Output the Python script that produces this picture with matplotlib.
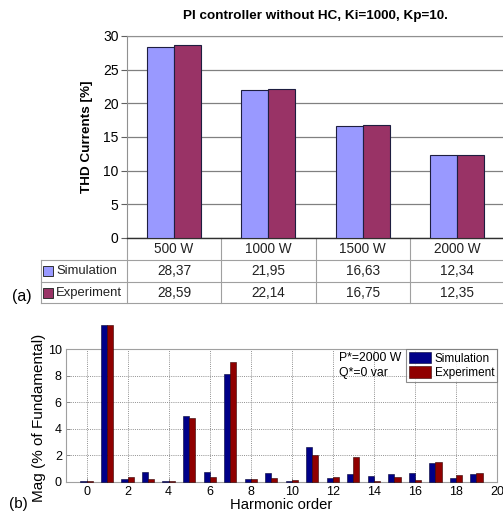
import numpy as np
import matplotlib
matplotlib.use("Agg")
import matplotlib.pyplot as plt
import matplotlib.transforms as mtransforms

plt.rcParams['font.family'] = ['Liberation Sans', 'DejaVu Sans']

# ---------------- data ----------------
powers = ["500 W", "1000 W", "1500 W", "2000 W"]
thd_sim = [28.37, 21.95, 16.63, 12.34]
thd_exp = [28.59, 22.14, 16.75, 12.35]
series_names = ["Simulation", "Experiment"]

harm_order = list(range(0, 20))
mag_sim = [0.1, 11.83, 0.2, 0.75, 0.05, 4.99, 0.78, 8.1, 0.25, 0.7,
           0.1, 2.6, 0.28, 0.6, 0.48, 0.6, 0.65, 1.45, 0.28, 0.63]
mag_exp = [0.1, 11.83, 0.35, 0.25, 0.05, 4.81, 0.38, 9.02, 0.25, 0.28,
           0.15, 2.0, 0.38, 1.9, 0.1, 0.4, 0.12, 1.53, 0.53, 0.7]

W, H = 503, 516
fig = plt.figure(figsize=(W / 100, H / 100), dpi=100)

def rect(l, t, r, b):
    return [l / W, 1 - b / H, (r - l) / W, (b - t) / H]

# ---------------- (a) top chart ----------------
ax1 = fig.add_axes(rect(127, 36, 504, 238))
c_sim1, c_exp1 = '#9999ff', '#993366'
x = np.arange(len(powers))
bw = 0.286
ax1.bar(x - bw / 2, thd_sim, bw, color=c_sim1, edgecolor='#1e1e40', lw=0.8, zorder=3)
ax1.bar(x + bw / 2, thd_exp, bw, color=c_exp1, edgecolor='#1e1e40', lw=0.8, zorder=3)
ax1.set_xlim(-0.5, len(powers) - 0.5)
ax1.set_ylim(0, 30)
ax1.set_yticks(np.arange(0, 31, 5))
ax1.yaxis.grid(True, color='#808080', lw=0.9)
ax1.set_axisbelow(True)
ax1.set_xticks([])
ax1.tick_params(axis='y', labelsize=10, length=4, width=0.8, color='#606060', pad=2)
for s in ['left', 'top', 'right']:
    ax1.spines[s].set_color('#909090')
    ax1.spines[s].set_linewidth(0.8)
ax1.spines['bottom'].set_color('#303030')
ax1.spines['bottom'].set_linewidth(1.0)
ax1.set_title("PI controller without HC, Ki=1000, Kp=10.", fontsize=9.7,
              fontweight='bold', pad=12)
ax1.set_ylabel("THD Currents [%]", fontsize=9.7, fontweight='bold', labelpad=7)

# data table under the chart
tr = mtransforms.blended_transform_factory(ax1.transData, ax1.transAxes)
lab_left = -0.5 - 86 / 94.25
y_lines = [-0.109, -0.218, -0.322]
line_kw = dict(color='#a0a0a0', lw=0.8, transform=tr, clip_on=False)
for yl in y_lines:
    ax1.plot([lab_left, len(powers) - 0.5], [yl, yl], **line_kw)
for xv in np.arange(-0.5, len(powers), 1.0):
    ax1.plot([xv, xv], [0, y_lines[-1]], **line_kw)
ax1.plot([lab_left, lab_left], [y_lines[0], y_lines[-1]], **line_kw)

row_y = [-0.0545, -0.163, -0.270]
for i, p in enumerate(powers):
    ax1.text(i, row_y[0], p, transform=tr, ha='center', va='center',
             fontsize=9.8, color='#222222')
    ax1.text(i, row_y[1], f"{thd_sim[i]:.2f}".replace('.', ','), transform=tr,
             ha='center', va='center', fontsize=9.8, color='#222222')
    ax1.text(i, row_y[2], f"{thd_exp[i]:.2f}".replace('.', ','), transform=tr,
             ha='center', va='center', fontsize=9.8, color='#222222')
sw_x = -0.5 - (127 - 48) / 94.25
tx_x = -0.5 - (127 - 56) / 94.25
for yy, col, name in zip(row_y[1:], [c_sim1, c_exp1], series_names):
    ax1.plot([sw_x], [yy], marker='s', ms=6.5, mfc=col, mec='#303030', mew=0.7,
             transform=tr, clip_on=False)
    ax1.text(tx_x, yy, name, transform=tr, ha='left', va='center',
             fontsize=9.4, color='#222222')

fig.text(12 / W, 1 - 296 / H, "(a)", fontsize=11.5, va='center', ha='left')

# ---------------- (b) bottom chart ----------------
ax2 = fig.add_axes(rect(66, 349, 497, 482))
c_sim2, c_exp2 = '#000088', '#900000'
h = np.array(harm_order)
bw2 = 0.30
ax2.bar(h - bw2 / 2, mag_sim, bw2, color=c_sim2, edgecolor='#000033', lw=0.4,
        label=series_names[0], clip_on=False, zorder=3)
ax2.bar(h + bw2 / 2, mag_exp, bw2, color=c_exp2, edgecolor='#300000', lw=0.4,
        label=series_names[1], clip_on=False, zorder=3)
ax2.set_xlim(-1, 20)
ax2.set_ylim(0, 10)
ax2.set_xticks(np.arange(0, 21, 2))
ax2.set_yticks(np.arange(0, 11, 2))
ax2.grid(True, color='#909090', ls=(0, (1, 1.2)), lw=0.7)
ax2.set_axisbelow(True)
ax2.tick_params(labelsize=9, length=3, width=0.6, color='#808080', direction='in', pad=3)
for s in ax2.spines.values():
    s.set_color('#a0a0a0')
    s.set_linewidth(0.8)
ax2.set_xlabel("Harmonic order", fontsize=10.6, labelpad=0)
ax2.set_ylabel("Mag (% of Fundamental)", fontsize=11)
ax2.yaxis.set_label_coords(-0.046, 0.48)
leg = ax2.legend(loc='upper right', fontsize=8.5, frameon=True, fancybox=False,
                 borderaxespad=0, handlelength=1.9, handleheight=1.1,
                 labelspacing=0.15, handletextpad=0.3, borderpad=0.25)
leg.get_frame().set_edgecolor('#707070')
leg.get_frame().set_linewidth(0.8)
ax2.text(12.3, 9.75, "P*=2000 W\nQ*=0 var", fontsize=8.8, va='top', ha='left',
         linespacing=1.25, zorder=4)

fig.text(9 / W, 1 - 504 / H, "(b)", fontsize=11, va='center', ha='left')

fig.savefig("out.png", dpi=100)
